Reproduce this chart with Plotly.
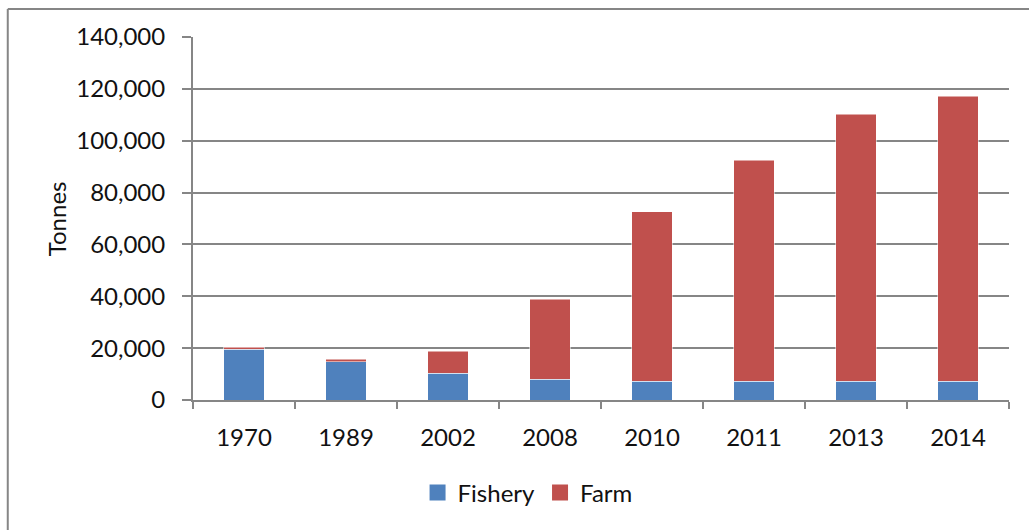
import plotly.graph_objects as go

years = ["1970", "1989", "2002", "2008", "2010", "2011", "2013", "2014"]
fishery = [19500, 14800, 10300, 8000, 7200, 7200, 7200, 7200]
farm = [800, 900, 8600, 30900, 65500, 85300, 103100, 110000]

font = "Lato"
grey = "#868686"
blue = "#4F81BD"
red = "#C0504D"

fig = go.Figure()
fig.add_trace(go.Bar(x=years, y=fishery, name="Fishery", width=0.4, showlegend=False,
                     marker=dict(color=blue, line=dict(width=1, color="rgba(255,255,255,0.5)"))))
fig.add_trace(go.Bar(x=years, y=farm, name="Farm", width=0.4, showlegend=False,
                     marker=dict(color=red, line=dict(width=1, color="rgba(255,255,255,0.5)"))))
# legend entries with bigger square swatches
for name, col in [("Fishery", blue), ("Farm", red)]:
    fig.add_trace(go.Scatter(x=[None], y=[None], mode="markers", name=name,
                             marker=dict(symbol="square", size=16, color=col)))

fig.update_layout(
    width=1029, height=530,
    barmode="stack",
    margin=dict(l=193, r=20, t=37, b=130),
    plot_bgcolor="white", paper_bgcolor="white",
    font=dict(family=font, size=24, color="#111"),
    legend=dict(orientation="h", x=0.41, y=-0.256, xanchor="center", yanchor="middle",
                font=dict(size=24), itemwidth=30, traceorder="normal"),
)
fig.update_yaxes(range=[0, 140000], dtick=20000, tickformat=",d",
                 showgrid=True, gridcolor=grey, gridwidth=1.5,
                 showline=True, linecolor=grey, linewidth=2,
                 ticks="outside", ticklen=9, tickcolor=grey, tickwidth=2,
                 ticklabelstandoff=12, zeroline=False)
fig.update_xaxes(showline=True, linecolor=grey, linewidth=2,
                 ticks="outside", ticklen=7, tickcolor=grey, tickwidth=2,
                 tickson="boundaries", ticklabelstandoff=15, showgrid=False)

fig.add_annotation(text="Tonnes", xref="paper", yref="paper", x=-0.167, y=0.5,
                   textangle=-90, showarrow=False, font=dict(size=24),
                   xanchor="center", yanchor="middle")

# outer chart border (top and left edges are visible)
fig.add_shape(type="line", xref="paper", yref="paper", x0=-0.227, x1=1.1, y0=1.077, y1=1.077,
              line=dict(color=grey, width=2))
fig.add_shape(type="line", xref="paper", yref="paper", x0=-0.227, x1=-0.227, y0=1.077, y1=-0.45,
              line=dict(color=grey, width=2))

fig.write_html("out.html", config={"displayModeBar": False},
               post_script="document.body.style.margin='0';")
